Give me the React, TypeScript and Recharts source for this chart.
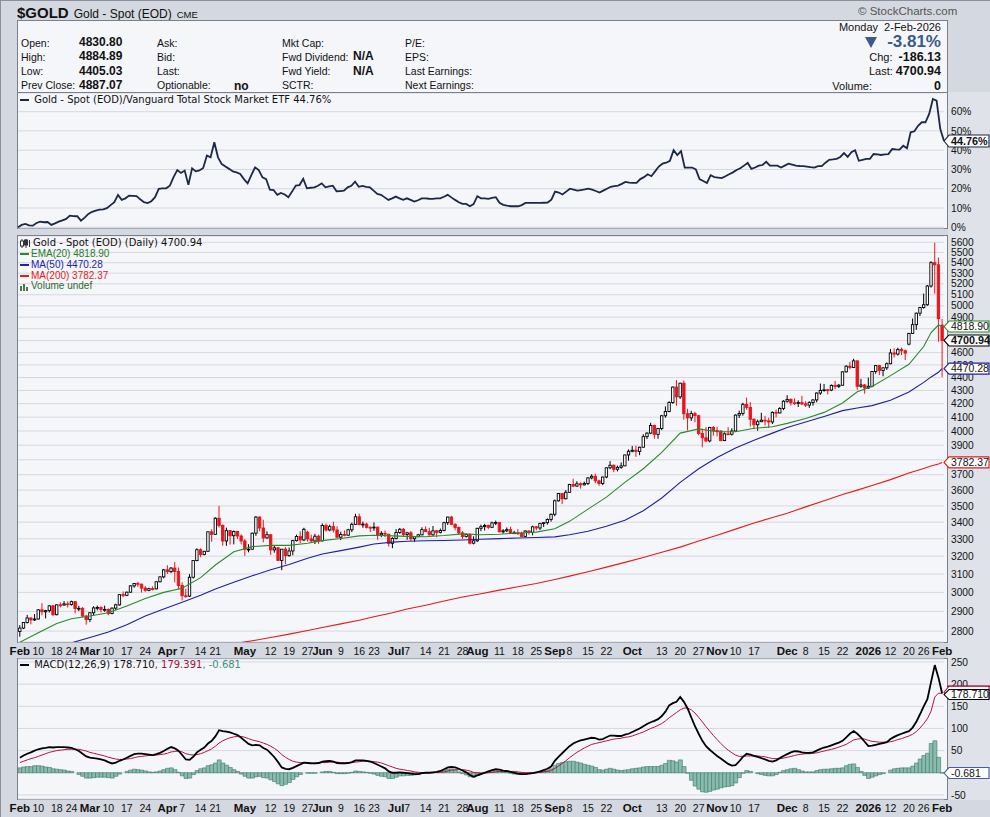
import React from "react";
import { ComposedChart, Line, Bar, XAxis, YAxis, CartesianGrid, ReferenceLine } from "recharts";

const ARIAL = "Arial, 'Liberation Sans', Helvetica, sans-serif";
const VERDANA = "Verdana, 'DejaVu Sans', sans-serif";
const BG = "#d4d8e0";
const PANEL = "#f5f6fa";
const BORDER = "#7a7f8c";
const RED = "#e6161c";

// trading calendar (month -> trading days)
const tradingDays: [string, number[]][] = [
  ["2025-02", [3, 4, 5, 6, 7, 10, 11, 12, 13, 14, 18, 19, 20, 21, 24, 25, 26, 27, 28]],
  ["2025-03", [3, 4, 5, 6, 7, 10, 11, 12, 13, 14, 17, 18, 19, 20, 21, 24, 25, 26, 27, 28, 31]],
  ["2025-04", [1, 2, 3, 4, 7, 8, 9, 10, 11, 14, 15, 16, 17, 21, 22, 23, 24, 25, 28, 29, 30]],
  ["2025-05", [1, 2, 5, 6, 7, 8, 9, 12, 13, 14, 15, 16, 19, 20, 21, 22, 23, 27, 28, 29, 30]],
  ["2025-06", [2, 3, 4, 5, 6, 9, 10, 11, 12, 13, 16, 17, 18, 20, 23, 24, 25, 26, 27, 30]],
  ["2025-07", [1, 2, 3, 7, 8, 9, 10, 11, 14, 15, 16, 17, 18, 21, 22, 23, 24, 25, 28, 29, 30, 31]],
  ["2025-08", [1, 4, 5, 6, 7, 8, 11, 12, 13, 14, 15, 18, 19, 20, 21, 22, 25, 26, 27, 28, 29]],
  ["2025-09", [2, 3, 4, 5, 8, 9, 10, 11, 12, 15, 16, 17, 18, 19, 22, 23, 24, 25, 26, 29, 30]],
  ["2025-10", [1, 2, 3, 6, 7, 8, 9, 10, 13, 14, 15, 16, 17, 20, 21, 22, 23, 24, 27, 28, 29, 30, 31]],
  ["2025-11", [3, 4, 5, 6, 7, 10, 11, 12, 13, 14, 17, 18, 19, 20, 21, 24, 25, 26, 28]],
  ["2025-12", [1, 2, 3, 4, 5, 8, 9, 10, 11, 12, 15, 16, 17, 18, 19, 22, 23, 24, 26, 29, 30, 31]],
  ["2026-01", [2, 5, 6, 7, 8, 9, 12, 13, 14, 15, 16, 20, 21, 22, 23, 26, 27, 28, 29, 30]],
  ["2026-02", [2]],
];

// daily [open, high, low, close]
const ohlcFeb25 = [
  [2798, 2830, 2772, 2815], [2815, 2845, 2810, 2843], [2843, 2882, 2838, 2866], [2866, 2870, 2834, 2856], [2856, 2886, 2851, 2861],
  [2861, 2911, 2858, 2908], [2908, 2942, 2880, 2898], [2898, 2908, 2864, 2904], [2904, 2932, 2894, 2929], [2929, 2934, 2877, 2883],
  [2883, 2936, 2880, 2934], [2934, 2947, 2921, 2933], [2933, 2954, 2930, 2939], [2939, 2952, 2920, 2936],
  [2936, 2956, 2930, 2951], [2951, 2953, 2890, 2915], [2915, 2929, 2901, 2916], [2916, 2922, 2872, 2876], [2876, 2882, 2832, 2858],
];
const ohlcMar25 = [
  [2858, 2896, 2845, 2893], [2893, 2927, 2880, 2918], [2918, 2930, 2905, 2920], [2920, 2927, 2895, 2910], [2910, 2930, 2898, 2910],
  [2910, 2915, 2880, 2889], [2889, 2920, 2885, 2917], [2917, 2940, 2907, 2934], [2934, 2990, 2930, 2988], [2988, 3005, 2975, 2984],
  [2984, 3004, 2980, 3001], [3001, 3038, 2998, 3035], [3035, 3050, 3025, 3048], [3048, 3057, 3030, 3044], [3044, 3048, 2999, 3023],
  [3023, 3034, 3003, 3011], [3011, 3025, 3006, 3020], [3020, 3032, 3010, 3019], [3019, 3060, 3016, 3057], [3057, 3087, 3055, 3084],
  [3084, 3128, 3076, 3123],
];
const ohlcApr25 = [
  [3123, 3149, 3100, 3113], [3113, 3138, 3105, 3133], [3133, 3167, 3054, 3114], [3114, 3136, 3015, 3037],
  [3037, 3055, 2957, 2982], [2982, 3020, 2970, 2980], [2980, 3099, 2975, 3082], [3082, 3176, 3075, 3175], [3175, 3245, 3171, 3237],
  [3237, 3245, 3194, 3210], [3210, 3230, 3205, 3228], [3228, 3344, 3225, 3342], [3342, 3357, 3284, 3327],
  [3327, 3430, 3325, 3424], [3424, 3500, 3367, 3380], [3380, 3387, 3260, 3288], [3288, 3367, 3260, 3349], [3349, 3352, 3267, 3319],
  [3319, 3350, 3268, 3344], [3344, 3347, 3300, 3317], [3317, 3327, 3268, 3288],
];
const ohlcMay25 = [
  [3288, 3299, 3202, 3239], [3239, 3269, 3222, 3240],
  [3240, 3337, 3238, 3334], [3334, 3437, 3318, 3431], [3431, 3435, 3345, 3365], [3365, 3414, 3280, 3306], [3306, 3345, 3300, 3325],
  [3325, 3328, 3207, 3236], [3236, 3262, 3220, 3248], [3248, 3253, 3172, 3176], [3176, 3241, 3121, 3240], [3240, 3252, 3154, 3203],
  [3203, 3250, 3197, 3230], [3230, 3295, 3205, 3290], [3290, 3325, 3285, 3314], [3314, 3345, 3276, 3294], [3294, 3366, 3287, 3357],
  [3340, 3348, 3285, 3300], [3300, 3325, 3278, 3288], [3288, 3330, 3270, 3316], [3316, 3325, 3271, 3289],
];
const ohlcJun25 = [
  [3289, 3392, 3285, 3380], [3380, 3392, 3343, 3353], [3353, 3385, 3345, 3373], [3373, 3403, 3338, 3353], [3353, 3375, 3307, 3310],
  [3310, 3343, 3293, 3326], [3326, 3350, 3315, 3322], [3322, 3360, 3318, 3354], [3354, 3397, 3340, 3387], [3387, 3451, 3385, 3433],
  [3433, 3452, 3382, 3385], [3385, 3403, 3366, 3388], [3388, 3396, 3362, 3369], [3369, 3375, 3341, 3368],
  [3368, 3398, 3347, 3370], [3370, 3372, 3295, 3324], [3324, 3346, 3310, 3333], [3333, 3350, 3311, 3328], [3328, 3329, 3255, 3274],
  [3274, 3310, 3246, 3303],
];
const ohlcJul25 = [
  [3303, 3358, 3297, 3338], [3338, 3365, 3330, 3357], [3357, 3365, 3311, 3326],
  [3326, 3342, 3296, 3336], [3336, 3347, 3287, 3301], [3301, 3317, 3283, 3313], [3313, 3330, 3310, 3324], [3324, 3369, 3322, 3355],
  [3355, 3375, 3341, 3343], [3343, 3366, 3320, 3324], [3324, 3377, 3319, 3348], [3348, 3352, 3310, 3339], [3339, 3361, 3332, 3350],
  [3350, 3402, 3345, 3397], [3397, 3433, 3383, 3431], [3431, 3439, 3382, 3387], [3387, 3393, 3351, 3368], [3368, 3373, 3325, 3336],
  [3336, 3346, 3301, 3314], [3314, 3334, 3308, 3326], [3326, 3334, 3268, 3275], [3275, 3315, 3268, 3289],
];
const ohlcAug25 = [
  [3289, 3366, 3282, 3363],
  [3363, 3385, 3346, 3373], [3373, 3390, 3350, 3380], [3380, 3385, 3358, 3369], [3369, 3403, 3365, 3396], [3396, 3409, 3382, 3398],
  [3398, 3401, 3340, 3342], [3342, 3358, 3331, 3348], [3348, 3368, 3340, 3355], [3355, 3373, 3331, 3335], [3335, 3348, 3330, 3336],
  [3336, 3358, 3323, 3332], [3332, 3343, 3313, 3315], [3315, 3351, 3311, 3347], [3347, 3351, 3325, 3339], [3339, 3379, 3321, 3372],
  [3372, 3376, 3351, 3365], [3365, 3394, 3352, 3393], [3393, 3398, 3371, 3397], [3397, 3423, 3385, 3416], [3416, 3453, 3403, 3448],
];
const ohlcSep25 = [
  [3448, 3540, 3436, 3532], [3532, 3582, 3527, 3578], [3578, 3580, 3511, 3545], [3545, 3600, 3541, 3586],
  [3586, 3640, 3583, 3636], [3636, 3674, 3620, 3626], [3626, 3658, 3621, 3641], [3641, 3650, 3610, 3634], [3634, 3655, 3630, 3643],
  [3643, 3685, 3633, 3679], [3679, 3703, 3670, 3690], [3690, 3707, 3646, 3660], [3660, 3667, 3628, 3643], [3643, 3687, 3632, 3685],
  [3685, 3749, 3677, 3746], [3746, 3791, 3737, 3763], [3763, 3768, 3717, 3736], [3736, 3761, 3722, 3749], [3749, 3782, 3740, 3759],
  [3759, 3834, 3757, 3833], [3833, 3871, 3793, 3858],
];
const ohlcOct25 = [
  [3858, 3895, 3851, 3865], [3865, 3897, 3820, 3857], [3857, 3889, 3831, 3886],
  [3886, 3977, 3885, 3960], [3960, 3991, 3943, 3985], [3985, 4059, 3978, 4040], [4040, 4045, 3945, 3976], [3976, 4022, 3945, 4018],
  [4018, 4117, 4006, 4110], [4110, 4179, 4096, 4142], [4142, 4218, 4136, 4208], [4208, 4330, 4199, 4326], [4326, 4381, 4185, 4251],
  [4251, 4359, 4235, 4356], [4356, 4376, 4082, 4125], [4125, 4161, 4004, 4095], [4095, 4147, 4072, 4126], [4126, 4140, 4063, 4111],
  [4111, 4117, 3969, 3982], [3982, 4016, 3886, 3952], [3952, 4029, 3920, 3930], [3930, 4030, 3920, 4025], [4025, 4036, 3966, 4003],
];
const ohlcNov25 = [
  [4003, 4030, 3962, 4000], [4000, 4005, 3928, 3932], [3932, 3990, 3931, 3980], [3980, 4028, 3970, 3977], [3977, 4020, 3968, 4000],
  [4000, 4120, 3995, 4115], [4115, 4148, 4094, 4127], [4127, 4207, 4111, 4195], [4195, 4245, 4155, 4172], [4172, 4212, 4032, 4085],
  [4085, 4091, 4013, 4045], [4045, 4082, 4002, 4067], [4067, 4132, 4065, 4078], [4078, 4110, 4040, 4073], [4073, 4096, 4022, 4065],
  [4065, 4142, 4050, 4135], [4135, 4156, 4098, 4131], [4131, 4174, 4128, 4164], [4164, 4226, 4151, 4218],
];
const ohlcDec25 = [
  [4218, 4264, 4207, 4232], [4232, 4240, 4185, 4206], [4206, 4240, 4190, 4205], [4205, 4225, 4175, 4208], [4208, 4259, 4190, 4198],
  [4198, 4218, 4175, 4189], [4189, 4218, 4168, 4208], [4208, 4233, 4185, 4228], [4228, 4285, 4210, 4280], [4280, 4353, 4266, 4300],
  [4300, 4350, 4291, 4305], [4305, 4310, 4270, 4303], [4303, 4346, 4295, 4339], [4339, 4374, 4310, 4331], [4331, 4350, 4318, 4340],
  [4340, 4448, 4338, 4445], [4445, 4497, 4440, 4490], [4490, 4525, 4465, 4480], [4480, 4550, 4475, 4533],
  [4533, 4535, 4305, 4332], [4332, 4390, 4320, 4342], [4342, 4350, 4275, 4319],
];
const ohlcJan26 = [
  [4319, 4400, 4312, 4332],
  [4332, 4450, 4325, 4448], [4448, 4500, 4430, 4495], [4495, 4500, 4420, 4456], [4456, 4480, 4410, 4477], [4477, 4520, 4460, 4510],
  [4510, 4630, 4505, 4597], [4597, 4635, 4560, 4588], [4588, 4640, 4575, 4626], [4626, 4642, 4580, 4615], [4615, 4625, 4540, 4596],
  [4670, 4765, 4660, 4760], [4760, 4888, 4755, 4835], [4835, 4940, 4790, 4935], [4935, 4990, 4910, 4985],
  [4985, 5110, 4975, 5010], [5010, 5190, 5000, 5180], [5180, 5415, 5165, 5400], [5400, 5595, 5110, 5380], [5380, 5450, 4690, 4887.07],
];
const ohlcFeb26 = [[4830.8, 4884.89, 4405.03, 4700.94]];

// Gold / VTI relative performance, %
const ratioPct = [
  0.0, 1.2, 1.7, 1.0, 0.8, 2.2, 2.9, 2.6, 2.7, 1.2, 2.0, 2.9, 3.6, 4.3, 6.0, 5.8, 5.7, 3.4, 5.0,
  6.9, 8.0, 8.6, 9.1, 9.3, 9.9, 11.5, 13.0, 16.8, 14.2, 15.0, 16.4, 16.3, 16.2, 14.5, 13.0, 12.5, 13.5, 15.6, 19.9, 20.2,
  20.2, 21.6, 26.0, 29.7, 28.2, 29.4, 22.0, 30.6, 29.0, 29.5, 30.8, 37.2, 36.3, 44.1, 36.3, 32.8, 31.5, 30.3, 29.0, 28.5, 27.7,
  25.0, 22.8, 27.0, 31.1, 29.7, 25.9, 25.0, 19.5, 19.3, 16.8, 17.8, 17.0, 15.6, 18.5, 21.6, 21.9, 25.1, 20.2, 20.5, 20.7, 21.5,
  22.8, 20.7, 21.2, 21.6, 18.7, 18.8, 19.0, 20.7, 21.5, 23.7, 21.0, 21.5, 21.0, 20.7, 19.0, 17.3, 16.8, 15.5, 14.2, 15.0,
  15.9, 15.0, 14.2, 15.0, 14.2, 13.3, 14.0, 15.0, 15.0, 14.8, 14.7, 15.0, 15.0, 15.8, 16.8, 15.5, 14.2, 13.0, 12.1, 12.1, 10.9, 12.0,
  16.1, 15.0, 15.0, 14.7, 15.2, 15.6, 12.7, 11.6, 11.2, 10.9, 10.9, 10.9, 11.5, 12.6, 12.6, 12.6, 12.6, 12.6, 12.7, 12.8, 14.3,
  18.5, 18.0, 17.0, 18.5, 20.0, 19.5, 19.0, 19.3, 19.6, 20.0, 19.5, 18.8, 18.0, 19.0, 20.0, 21.0, 21.3, 21.6, 22.5, 23.5, 23.2,
  23.0, 23.0, 25.0, 26.0, 27.5, 26.5, 29.0, 31.5, 33.0, 33.5, 34.5, 40.0, 37.5, 39.5, 31.0, 31.0, 31.0, 30.0, 25.0, 24.0, 23.0, 27.0, 26.0,
  25.8, 25.5, 26.5, 27.5, 28.5, 29.7, 30.6, 32.0, 33.4, 30.3, 31.0, 32.0, 32.3, 34.0, 32.0, 32.0, 32.0, 31.0, 32.0,
  33.0, 32.5, 32.0, 31.8, 31.7, 31.5, 31.2, 31.0, 31.7, 31.7, 33.5, 35.0, 35.2, 35.5, 36.5, 38.5, 36.5, 39.0, 40.0, 34.5, 35.0, 35.5,
  35.5, 38.0, 37.8, 37.5, 37.8, 38.0, 40.6, 40.4, 40.3, 42.3, 41.0, 49.3, 49.8, 52.7, 54.5, 54.5, 58.8, 66.6, 65.7, 51.0,
  44.76,
];

// MACD(12,26,9) line and signal line
const macdLine = [
  34, 39, 43, 46, 50, 53, 55, 56, 58, 57, 58, 58, 58, 57, 56, 53, 49, 43, 37,
  34, 33, 32, 30, 28, 24, 21, 23, 27, 30, 34, 38, 42, 43, 43, 42, 41, 40, 42, 45, 49,
  54, 58, 55, 50, 40, 30, 29, 36, 46, 52, 57, 66, 72, 82, 96, 94, 93, 91, 88, 85, 79,
  72, 65, 62, 63, 62, 56, 52, 44, 35, 24, 12, 9, 8, 11, 15, 19, 23, 22, 21, 21, 22,
  25, 26, 27, 25, 22, 21, 21, 22, 24, 28, 28, 28, 27, 25, 22, 18, 14, 10, 3, 0,
  0, 1, 0, -1, -2, -3, -3, -1, 0, 0, 1, 2, 4, 8, 12, 13, 12, 9, 5, 1, -5, -9,
  -6, -3, 0, 3, 6, 8, 7, 5, 4, 2, 0, -2, -3, -3, -2, -1, 1, 3, 6, 9, 14,
  27, 36, 44, 52, 60, 66, 70, 73, 75, 77, 79, 78, 75, 76, 80, 84, 84, 83, 83, 86, 88,
  92, 96, 100, 105, 110, 114, 117, 121, 128, 138, 152, 157, 160, 171, 160, 145, 125, 105, 88, 72, 60, 52, 45,
  38, 32, 26, 20, 16, 17, 26, 36, 43, 41, 38, 36, 33, 30, 27, 25, 28, 33, 38,
  42, 46, 49, 48, 46, 45, 45, 46, 50, 54, 57, 59, 62, 65, 68, 72, 80, 88, 94, 88, 80, 70,
  60, 61, 63, 65, 67, 69, 76, 81, 85, 88, 91, 94, 102, 115, 132, 150, 166, 205, 243, 214.6,
  178.71,
];
const signalLine = [
  23, 26, 29, 32, 34, 37, 40, 43, 46, 48, 50, 51, 52, 53, 53, 53, 53, 51, 49,
  46, 44, 42, 40, 38, 35, 33, 31, 30, 30, 31, 32, 34, 36, 37, 38, 39, 39, 40, 41, 42,
  44, 47, 48, 49, 47, 43, 41, 40, 41, 43, 46, 50, 54, 60, 67, 72, 76, 79, 81, 82, 82,
  80, 77, 74, 72, 70, 67, 64, 60, 55, 49, 41, 35, 30, 26, 24, 23, 23, 23, 22, 22, 22,
  23, 23, 24, 24, 24, 23, 23, 23, 23, 24, 25, 26, 26, 26, 25, 24, 22, 19, 16, 13,
  10, 8, 7, 5, 4, 2, 1, 0, 0, 0, 0, 1, 1, 2, 4, 6, 7, 7, 7, 6, 4, 1,
  0, -1, -1, 0, 1, 2, 3, 3, 3, 3, 3, 2, 1, 0, 0, 0, 0, 1, 2, 3, 5,
  10, 15, 21, 27, 34, 40, 46, 51, 56, 60, 64, 66, 68, 70, 72, 74, 76, 77, 78, 80, 81,
  83, 86, 89, 92, 96, 100, 103, 107, 111, 117, 124, 130, 136, 142, 146, 146, 142, 135, 125, 115, 104, 94, 84,
  75, 66, 58, 51, 45, 40, 37, 37, 38, 38, 38, 38, 37, 36, 34, 32, 32, 32, 33,
  35, 37, 39, 41, 42, 43, 43, 44, 45, 47, 49, 51, 53, 55, 58, 61, 64, 69, 74, 76, 77, 76,
  73, 71, 70, 69, 69, 69, 70, 72, 75, 77, 80, 83, 87, 93, 101, 111, 122, 139, 170.8, 179.56,
  179.391,
];

// moving averages read at week starts (plus the last few days)
const maDates = [
  "2025-02-03", "2025-02-10", "2025-02-18", "2025-02-24", "2025-03-03", "2025-03-10", "2025-03-17", "2025-03-24", "2025-03-31",
  "2025-04-07", "2025-04-14", "2025-04-21", "2025-04-28", "2025-05-05", "2025-05-12", "2025-05-19", "2025-05-27", "2025-06-02",
  "2025-06-09", "2025-06-16", "2025-06-23", "2025-06-30", "2025-07-07", "2025-07-14", "2025-07-21", "2025-07-28", "2025-08-04",
  "2025-08-11", "2025-08-18", "2025-08-25", "2025-09-02", "2025-09-08", "2025-09-15", "2025-09-22", "2025-09-29", "2025-10-06",
  "2025-10-13", "2025-10-20", "2025-10-27", "2025-11-03", "2025-11-10", "2025-11-17", "2025-11-24", "2025-12-01", "2025-12-08",
  "2025-12-15", "2025-12-22", "2025-12-29", "2026-01-05", "2026-01-12", "2026-01-20", "2026-01-26", "2026-01-28", "2026-01-30",
  "2026-02-02",
];
const ema20 = [
  2745, 2792, 2838, 2862, 2876, 2893, 2928, 2968, 3000,
  3022, 3080, 3150, 3225, 3255, 3262, 3262, 3275, 3290,
  3302, 3318, 3322, 3318, 3315, 3313, 3320, 3330, 3325,
  3328, 3335, 3340, 3360, 3405, 3480, 3555, 3650, 3740,
  3850, 3985, 4015, 3995, 3995, 4020, 4030, 4055, 4090,
  4135, 4205, 4290, 4330, 4415, 4505, 4650, 4768, 4832,
  4818.9,
];
const ma50 = [
  2680, 2700, 2722, 2742, 2768, 2795, 2832, 2876, 2912,
  2948, 2985, 3018, 3055, 3090, 3123, 3153, 3188, 3212,
  3232, 3252, 3270, 3281, 3286, 3289, 3291, 3294, 3298,
  3302, 3305, 3308, 3312, 3325, 3345, 3375, 3412, 3470,
  3550, 3650, 3740, 3815, 3880, 3935, 3985, 4025, 4065,
  4105, 4148, 4168, 4185, 4225, 4288, 4362, 4405, 4442,
  4470.28,
];
const ma200 = [
  2560, 2575, 2590, 2602, 2616, 2630, 2645, 2660, 2675,
  2690, 2705, 2720, 2738, 2752, 2768, 2785, 2803, 2818,
  2836, 2855, 2872, 2893, 2912, 2932, 2954, 2975, 2993,
  3012, 3030, 3048, 3070, 3088, 3112, 3138, 3165, 3192,
  3222, 3252, 3288, 3322, 3358, 3395, 3428, 3455, 3494,
  3532, 3572, 3600, 3630, 3668, 3712, 3742, 3758, 3772,
  3782.37,
];

// x axis labels and grid
const tickDates = [
  "2025-02-03", "2025-02-10", "2025-02-18", "2025-02-24", "2025-03-03", "2025-03-10", "2025-03-17", "2025-03-24",
  "2025-04-01", "2025-04-07", "2025-04-14", "2025-04-21", "2025-05-01", "2025-05-12", "2025-05-19", "2025-05-27",
  "2025-06-02", "2025-06-09", "2025-06-16", "2025-06-23", "2025-07-01", "2025-07-07", "2025-07-14", "2025-07-21",
  "2025-07-28", "2025-08-01", "2025-08-11", "2025-08-18", "2025-08-25", "2025-09-02", "2025-09-08", "2025-09-15",
  "2025-09-22", "2025-10-01", "2025-10-13", "2025-10-20", "2025-10-27", "2025-11-03", "2025-11-10", "2025-11-17",
  "2025-12-01", "2025-12-08", "2025-12-15", "2025-12-22", "2026-01-02", "2026-01-12", "2026-01-20", "2026-01-26",
  "2026-02-02",
];
const monthStarts = [
  "2025-02-03", "2025-03-03", "2025-04-01", "2025-05-01", "2025-06-02", "2025-07-01", "2025-08-01",
  "2025-09-02", "2025-10-01", "2025-11-03", "2025-12-01", "2026-01-02", "2026-02-02",
];
const monthLabels = ["Feb", "Mar", "Apr", "May", "Jun", "Jul", "Aug", "Sep", "Oct", "Nov", "Dec", "2026", "Feb"];
const extraGridDates = ["2025-11-24"];

const ratioTicks = [0, 10, 20, 30, 40, 50, 60];
const priceTicks = [
  2800, 2900, 3000, 3100, 3200, 3300, 3400, 3500, 3600, 3700, 3800, 3900, 4000, 4100, 4200,
  4300, 4400, 4500, 4600, 4700, 4800, 4900, 5000, 5100, 5200, 5300, 5400, 5500, 5600,
];
const hiddenPriceTicks = [3800, 4700, 4800];
const macdTicks = [-50, 0, 50, 100, 150, 200, 250];

const dates = tradingDays.flatMap(([m, ds]) => ds.map((d) => `${m}-${String(d).padStart(2, "0")}`));
const ohlc = [
  ...ohlcFeb25, ...ohlcMar25, ...ohlcApr25, ...ohlcMay25, ...ohlcJun25, ...ohlcJul25,
  ...ohlcAug25, ...ohlcSep25, ...ohlcOct25, ...ohlcNov25, ...ohlcDec25, ...ohlcJan26, ...ohlcFeb26,
];
const maIndex = new Map(maDates.map((d, k) => [d, k]));

const rows = dates.map((date, i) => {
  const [o, h, l, c] = ohlc[i] || [NaN, NaN, NaN, NaN];
  const k = maIndex.get(date);
  return {
    date,
    o, h, l, c,
    pc: i > 0 && ohlc[i - 1] ? ohlc[i - 1][3] : o,
    range: [l, h],
    ratio: ratioPct[i],
    macd: macdLine[i],
    signal: signalLine[i],
    hist: macdLine[i] - signalLine[i],
    ema20: k === undefined ? null : ema20[k],
    ma50: k === undefined ? null : ma50[k],
    ma200: k === undefined ? null : ma200[k],
  };
});

const weekGrid = [...tickDates.filter((d) => !monthStarts.includes(d)), ...extraGridDates];

const xLines = (list: string[]) => (args: any) => {
  const s = args?.xAxis?.scale;
  if (typeof s !== "function") return [];
  const bw = typeof s.bandwidth === "function" ? s.bandwidth() : 0;
  return list.map((d) => s(d)).filter((v: number) => Number.isFinite(v)).map((v: number) => v + bw / 2);
};

const Candle = (props: any) => {
  const { x, y, width, height, payload } = props;
  if (!payload || !Number.isFinite(y) || !Number.isFinite(height)) return null;
  const { o, h, l, c, pc } = payload;
  const top = Math.min(y, y + height);
  const bot = Math.max(y, y + height);
  const span = Math.log(h) - Math.log(l);
  const py = (v: number) => (span > 0 ? top + ((Math.log(h) - Math.log(v)) / span) * (bot - top) : top);
  const cx = x + width / 2;
  const color = c < pc ? RED : "#000";
  const filled = c < o;
  const yo = py(o);
  const yc = py(c);
  const bt = Math.min(yo, yc);
  const bb = Math.max(yo, yc);
  return (
    <g>
      <line x1={cx} x2={cx} y1={top} y2={bot} stroke={color} strokeWidth={1} />
      <rect x={cx - 1.2} y={bt} width={2.4} height={Math.max(bb - bt, 0.8)} fill={filled ? color : "#fff"} stroke={color} strokeWidth={0.9} />
    </g>
  );
};

const DateTick = (props: any) => {
  const { x, y, payload } = props;
  const d = payload.value as string;
  const mi = monthStarts.indexOf(d);
  const label = mi >= 0 ? monthLabels[mi] : String(Number(d.slice(8)));
  return (
    <text x={x} y={y + 13} textAnchor="middle" fontFamily={ARIAL} fontSize={mi >= 0 ? 11.5 : 10.5} fontWeight={mi >= 0 ? 700 : 400} fill="#111">
      {label}
    </text>
  );
};

// value tag pinned to the right axis
const tag = (text: string, color: string, bold: boolean, halfH = 5.5, dy = 0, line = false) => (props: any) => {
  const vb = props.viewBox;
  if (!vb) return null;
  const x0 = vb.x + vb.width;
  const y = vb.y + dy;
  const x1 = x0 + 46;
  return (
    <g>
      {line && <line x1={x0 + 3} x2={x1} y1={y - halfH} y2={y - halfH} stroke={color} strokeWidth={1.5} />}
      <path
        d={`M${x0},${y} L${x0 + 5},${y - halfH} L${x1 - 1},${y - halfH} L${x1 - 1},${y + halfH} L${x0 + 5},${y + halfH} Z`}
        fill="#fdfdfd"
        stroke={color}
        strokeWidth={1.1}
      />
      {text && (
        <text x={x0 + 7} y={y + 3.8} fontFamily={ARIAL} fontSize={bold ? 10.8 : 10.5} fontWeight={bold ? 700 : 400} fill="#111">
          {text}
        </text>
      )}
    </g>
  );
};

const yTick = { fontSize: 10.2, fill: "#111", fontFamily: ARIAL };
const MARGIN = { top: 0, right: 0, bottom: 0, left: 17 };
const MARGIN_B = { top: 0, right: 0, bottom: 8, left: 17 };
const MARGIN_T = { top: 8, right: 0, bottom: 0, left: 17 };

const Box = ({ top, height }: { top: number; height: number }) => (
  <div style={{ position: "absolute", left: 16, top, width: 931, height, boxSizing: "border-box", border: `1px solid ${BORDER}`, background: PANEL }} />
);

const Swatch = ({ color }: { color: string }) => (
  <span style={{ display: "inline-block", width: 9, height: 2, background: color, verticalAlign: "middle", marginRight: 2 }} />
);

const lbl = (left: number, top: number, text: React.ReactNode, style: React.CSSProperties = {}) => (
  <div style={{ position: "absolute", left, top, fontFamily: ARIAL, fontSize: 10.5, lineHeight: "14px", color: "#111", whiteSpace: "nowrap", ...style }}>{text}</div>
);
const val = { fontWeight: 700, fontSize: 12 } as React.CSSProperties;

export default function App() {
  return (
    <div style={{ position: "absolute", left: 0, top: 0, width: 990, height: 817, overflow: "hidden", background: BG, fontFamily: ARIAL, boxSizing: "border-box", borderLeft: "1px solid #8c909b", borderTop: "1px solid #8c909b" }}>
      {/* header */}
      <div style={{ position: "absolute", left: 16, top: 3, whiteSpace: "nowrap", color: "#111" }}>
        <span style={{ fontSize: 15, fontWeight: 700 }}>$GOLD</span>
        <span style={{ fontSize: 12, marginLeft: 5 }}>Gold - Spot (EOD)</span>
        <span style={{ fontSize: 9.5, marginLeft: 5 }}>CME</span>
      </div>
      <div style={{ position: "absolute", left: 857, top: 4, fontSize: 11.5, color: "#555", whiteSpace: "nowrap" }}>© StockCharts.com</div>

      {/* right axis column */}
      <div style={{ position: "absolute", left: 947, top: 91, width: 43, height: 708, background: "#dfe2e8" }} />

      <div style={{ position: "absolute", left: 16, top: 19, width: 931, height: 73, boxSizing: "border-box", border: `1px solid ${BORDER}`, background: PANEL }} />
      {lbl(20, 35, "Open:")}
      {lbl(20, 49, "High:")}
      {lbl(20, 63, "Low:")}
      {lbl(20, 77, "Prev Close:")}
      {lbl(78, 34, "4830.80", val)}
      {lbl(78, 48, "4884.89", val)}
      {lbl(78, 63, "4405.03", val)}
      {lbl(78, 77, "4887.07", val)}
      {lbl(156, 35, "Ask:")}
      {lbl(156, 49, "Bid:")}
      {lbl(156, 63, "Last:")}
      {lbl(156, 77, "Optionable:")}
      {lbl(233, 78, "no", val)}
      {lbl(281, 35, "Mkt Cap:")}
      {lbl(281, 49, "Fwd Dividend:")}
      {lbl(281, 63, "Fwd Yield:")}
      {lbl(281, 77, "SCTR:")}
      {lbl(352, 48, "N/A", val)}
      {lbl(352, 63, "N/A", val)}
      {lbl(404, 35, "P/E:")}
      {lbl(404, 49, "EPS:")}
      {lbl(404, 63, "Last Earnings:")}
      {lbl(404, 77, "Next Earnings:")}

      <div style={{ position: "absolute", right: 49, top: 19, textAlign: "right", whiteSpace: "nowrap", color: "#111" }}>
        <div style={{ fontSize: 11, lineHeight: "14px" }}>Monday&nbsp; 2-Feb-2026</div>
        <div style={{ fontSize: 17, lineHeight: "16px", fontWeight: 700, color: "#3b5a87" }}>
          <svg width={12} height={11} style={{ marginRight: 10, verticalAlign: "-1px" }}>
            <polygon points="0,0 12,0 6,11" fill="#3b5a87" />
          </svg>
          -3.81%
        </div>
        <div style={{ fontSize: 11, lineHeight: "14px" }}>
          Chg:&nbsp;&nbsp;<b style={{ fontSize: 12.5 }}>-186.13</b>
        </div>
        <div style={{ fontSize: 11, lineHeight: "15px" }}>
          Last: <b style={{ fontSize: 12.5 }}>4700.94</b>
        </div>
        <div style={{ fontSize: 11, lineHeight: "14px" }}>
          Volume:<span style={{ display: "inline-block", width: 62 }} />
          <b style={{ fontSize: 12.5 }}>0</b>
        </div>
      </div>

      {/* panel backgrounds */}
      <Box top={91} height={137} />
      <Box top={234} height={408} />
      <Box top={657} height={142} />

      {/* relative performance panel */}
      <div style={{ position: "absolute", left: 0, top: 92 }}>
        <ComposedChart width={990} height={143} data={rows} margin={MARGIN_B}>
          <CartesianGrid stroke="#d5d8df" verticalCoordinatesGenerator={xLines(weekGrid)} />
          <CartesianGrid stroke="#b3b7c0" horizontal={false} verticalCoordinatesGenerator={xLines(monthStarts)} />
          <XAxis dataKey="date" hide />
          <YAxis orientation="right" width={47} domain={[-0.4, 69.7]} ticks={ratioTicks} interval={0} tickFormatter={(v) => `${v}%`} axisLine={false} tickLine={false} tickSize={0} tickMargin={7} tick={yTick} allowDataOverflow />
          <Line dataKey="ratio" stroke="#1c2846" strokeWidth={1.8} dot={false} isAnimationActive={false} />
        </ComposedChart>
      </div>

      {/* price panel */}
      <div style={{ position: "absolute", left: 0, top: 235 }}>
        <ComposedChart width={990} height={422} data={rows} margin={MARGIN} barCategoryGap="8%">
          <CartesianGrid stroke="#d5d8df" verticalCoordinatesGenerator={xLines(weekGrid)} />
          <CartesianGrid stroke="#b3b7c0" horizontal={false} verticalCoordinatesGenerator={xLines(monthStarts)} />
          <XAxis dataKey="date" ticks={tickDates} interval={0} tick={<DateTick />} axisLine={false} tickLine={false} tickSize={0} tickMargin={0} height={16} />
          <YAxis orientation="right" width={47} scale="log" domain={[2746, 5663]} ticks={priceTicks} interval={0} tickFormatter={(v) => (hiddenPriceTicks.includes(v) ? "" : String(v))} axisLine={false} tickLine={false} tickSize={0} tickMargin={7} tick={yTick} allowDataOverflow />
          <Line dataKey="ma200" stroke="#e31b1b" strokeWidth={1.1} dot={false} connectNulls isAnimationActive={false} />
          <Line dataKey="ma50" stroke="#1f1fa3" strokeWidth={1.1} dot={false} connectNulls isAnimationActive={false} />
          <Line dataKey="ema20" stroke="#2b8a2b" strokeWidth={1.1} dot={false} connectNulls isAnimationActive={false} />
          <Bar dataKey="range" shape={Candle} isAnimationActive={false} />
        </ComposedChart>
      </div>

      {/* MACD panel */}
      <div style={{ position: "absolute", left: 0, top: 650 }}>
        <ComposedChart width={990} height={164} data={rows} margin={MARGIN_T} barCategoryGap={0}>
          <CartesianGrid stroke="#d5d8df" verticalCoordinatesGenerator={xLines(weekGrid)} />
          <CartesianGrid stroke="#b3b7c0" horizontal={false} verticalCoordinatesGenerator={xLines(monthStarts)} />
          <XAxis dataKey="date" ticks={tickDates} interval={0} tick={<DateTick />} axisLine={false} tickLine={false} tickSize={0} tickMargin={0} height={16} />
          <YAxis orientation="right" width={47} domain={[-59.2, 256.7]} ticks={macdTicks} interval={0} tickFormatter={(v) => (v === 0 ? "" : String(v))} axisLine={false} tickLine={false} tickSize={0} tickMargin={7} tick={yTick} allowDataOverflow />
          <Bar dataKey="hist" fill="#8abcad" stroke="#3c7868" strokeWidth={0.6} isAnimationActive={false} />
          <Line dataKey="signal" stroke="#b8123f" strokeWidth={1} dot={false} isAnimationActive={false} />
          <Line dataKey="macd" stroke="#000" strokeWidth={1.8} dot={false} isAnimationActive={false} />
        </ComposedChart>
      </div>

      {/* value tags, drawn over the axis labels */}
      <div style={{ position: "absolute", left: 0, top: 92 }}>
        <ComposedChart width={990} height={135} data={rows} margin={MARGIN}>
          <XAxis dataKey="date" hide />
          <YAxis orientation="right" width={47} domain={[-0.4, 69.7]} tick={false} axisLine={false} tickLine={false} allowDataOverflow />
          <ReferenceLine y={44.76} stroke="none" ifOverflow="visible" label={{ content: tag("44.76%", "#1c2846", true, 6) } as any} />
        </ComposedChart>
      </div>
      <div style={{ position: "absolute", left: 0, top: 235 }}>
        <ComposedChart width={990} height={406} data={rows} margin={MARGIN}>
          <XAxis dataKey="date" hide />
          <YAxis orientation="right" width={47} scale="log" domain={[2746, 5663]} tick={false} axisLine={false} tickLine={false} allowDataOverflow />
          <ReferenceLine y={4818.9} stroke="none" ifOverflow="visible" label={{ content: tag("4818.90", "#2b8a2b", false) } as any} />
          <ReferenceLine y={4700.94} stroke="none" ifOverflow="visible" label={{ content: tag("4700.94", "#000", true) } as any} />
          <ReferenceLine y={4470.28} stroke="none" ifOverflow="visible" label={{ content: tag("4470.28", "#1f1fa3", false) } as any} />
          <ReferenceLine y={3782.37} stroke="none" ifOverflow="visible" label={{ content: tag("3782.37", "#e31b1b", false) } as any} />
        </ComposedChart>
      </div>
      <div style={{ position: "absolute", left: 0, top: 658 }}>
        <ComposedChart width={990} height={140} data={rows} margin={MARGIN}>
          <XAxis dataKey="date" hide />
          <YAxis orientation="right" width={47} domain={[-59.2, 256.7]} tick={false} axisLine={false} tickLine={false} allowDataOverflow />
          <ReferenceLine y={179.391} stroke="none" ifOverflow="visible" label={{ content: tag("", "#a3123a", false, 6, -1, true) } as any} />
          <ReferenceLine y={178.71} stroke="none" ifOverflow="visible" label={{ content: tag("178.710", "#000", false, 5, 1) } as any} />
          <ReferenceLine y={-0.681} stroke="none" ifOverflow="visible" label={{ content: tag("-0.681", "#4a5aa8", false) } as any} />
        </ComposedChart>
      </div>

      {/* legends */}
      <div style={{ position: "absolute", left: 19, top: 93, fontFamily: VERDANA, fontSize: 10, lineHeight: "12px", color: "#111", whiteSpace: "nowrap" }}>
        <Swatch color="#1c2846" /> Gold - Spot (EOD)/Vanguard Total Stock Market ETF 44.76%
      </div>
      <div style={{ position: "absolute", left: 19, top: 236, whiteSpace: "nowrap", color: "#111" }}>
        <div style={{ fontFamily: VERDANA, fontSize: 10, lineHeight: "12px" }}>
          <svg width={11} height={9} style={{ verticalAlign: "middle", marginRight: 2 }}>
            <line x1={2} x2={2} y1={0} y2={9} stroke="#333" />
            <rect x={0.5} y={2} width={3} height={5} fill="#fff" stroke="#333" />
            <line x1={6} x2={6} y1={0} y2={9} stroke="#333" />
            <rect x={4.5} y={1} width={3} height={5} fill="#333" stroke="#333" />
            <line x1={9.5} x2={9.5} y1={1} y2={8} stroke="#333" />
          </svg>
          Gold - Spot (EOD) (Daily) 4700.94
        </div>
        <div style={{ fontFamily: ARIAL, fontSize: 10, lineHeight: "10.8px", color: "#2b7a2b" }}>
          <Swatch color="#2b8a2b" />EMA(20) 4818.90
        </div>
        <div style={{ fontFamily: ARIAL, fontSize: 10, lineHeight: "10.8px", color: "#1f1fa3" }}>
          <Swatch color="#1f1fa3" />MA(50) 4470.28
        </div>
        <div style={{ fontFamily: ARIAL, fontSize: 10, lineHeight: "10.8px", color: "#e31b1b" }}>
          <Swatch color="#e31b1b" />MA(200) 3782.37
        </div>
        <div style={{ fontFamily: ARIAL, fontSize: 10, lineHeight: "10.8px", color: "#2b6a2b" }}>
          <svg width={9} height={8} style={{ verticalAlign: "middle", marginRight: 2 }}>
            <rect x={0} y={3} width={2} height={5} fill="#4b7a4b" />
            <rect x={3} y={1} width={2} height={7} fill="#4b7a4b" />
            <rect x={6} y={4} width={2} height={4} fill="#4b7a4b" />
          </svg>
          Volume undef
        </div>
      </div>
      <div style={{ position: "absolute", left: 19, top: 658, fontFamily: VERDANA, fontSize: 10, lineHeight: "12px", color: "#111", whiteSpace: "nowrap" }}>
        <Swatch color="#000" /> MACD(12,26,9) 178.710<span style={{ color: "#a3123a" }}>, 179.391</span>
        <span style={{ color: "#3f8f7f" }}>, -0.681</span>
      </div>
    </div>
  );
}
